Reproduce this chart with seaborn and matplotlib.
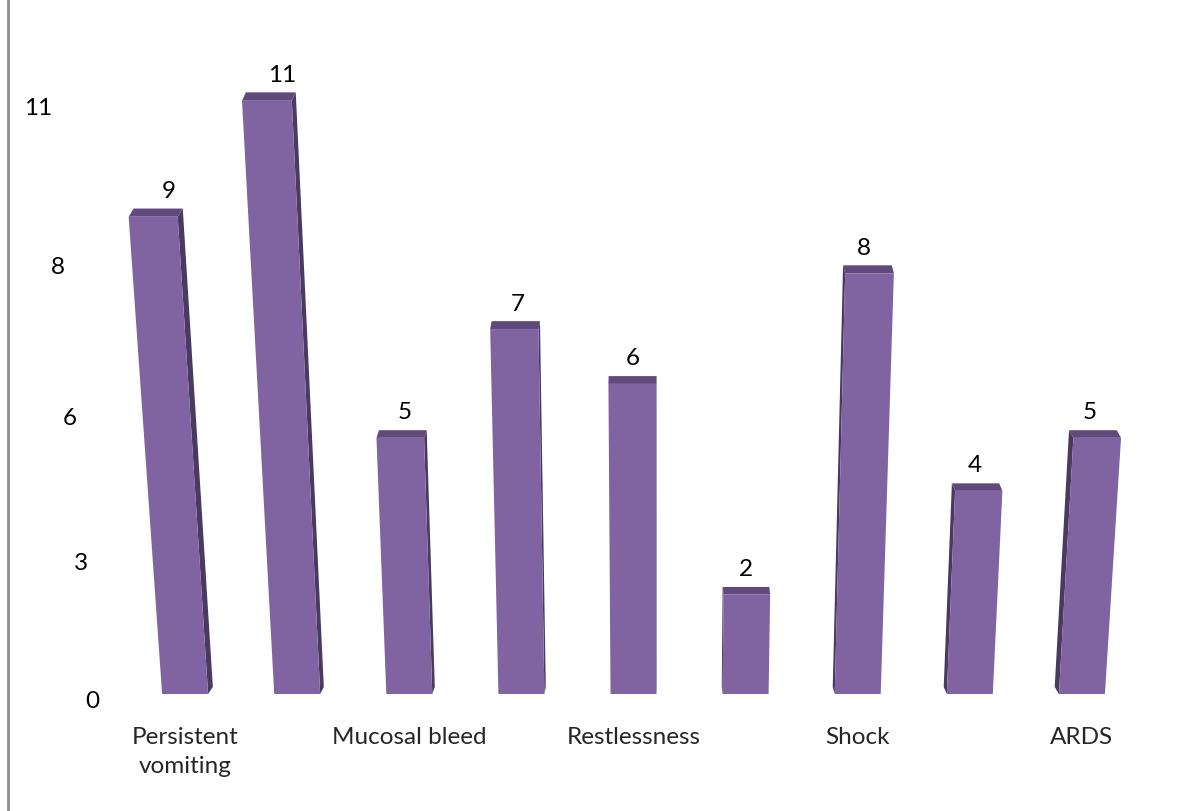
import numpy as np
import pandas as pd
import matplotlib
matplotlib.use("Agg")
import matplotlib.pyplot as plt
import matplotlib.transforms as mtransforms
from matplotlib.patches import Polygon
from matplotlib.lines import Line2D
import seaborn as sns

# ---------------- data ----------------
# (labels of bars 2, 4, 6, 8 are hidden in the reference, Excel skipped them)
categories = ["Persistent\nvomiting", "Abdominal pain", "Mucosal bleed", "Lethargy",
              "Restlessness", "Hepatomegaly", "Shock", "Fluid accumulation", "ARDS"]
values = [9, 11, 5, 7, 6, 2, 8, 4, 5]
shown_ticks = [0, 2, 4, 6, 8]
ytick_values = [0, 2.75, 5.5, 8.25, 11]
ytick_labels = ["0", "3", "6", "8", "11"]

# ---------------- style ----------------
FACE = "#8064A2"
TOP = "#604A7B"
SIDE = "#4A3961"
DPI = 100
XC_FRAC = 0.525      # horizontal vanishing centre (axes fraction)
DIVERGE = 7085.0     # perspective divergence (px)
STRETCH = 5336.0     # vertical perspective stretch (px)
SIDE_K = 0.011
DEPTH_UP = 7.0
FS = 17.5

sns.set_theme(style="white")
plt.rcParams["font.family"] = ["Lato", "DejaVu Sans"]


class Perspective(mtransforms.Transform):
    input_dims = 2
    output_dims = 2
    is_separable = False
    has_inverse = False

    def __init__(self, ax, xc_frac, diverge, stretch, x_strength=1.0):
        super().__init__()
        self._ax = ax
        self._xc_frac = xc_frac
        self._div = diverge
        self._stretch = stretch
        self._xs = x_strength

    def transform_non_affine(self, values):
        arr = np.asarray(values, dtype=float)
        v = arr.reshape(-1, 2)
        y0 = self._ax.transData.transform((0, 0))[1]
        xc = self._ax.transAxes.transform((self._xc_frac, 0))[0]
        h = v[:, 1] - y0
        hp = h * (1 + h / self._stretch)
        x = v[:, 0] + (v[:, 0] - xc) * hp / self._div * self._xs
        out = np.column_stack([x, y0 + hp])
        if arr.ndim == 1:
            return out.reshape(-1)
        return out


fig = plt.figure(figsize=(11.97, 8.12), dpi=DPI)
ax = fig.add_axes([0.1078, 0.1441, 0.8429, 0.7239])

df = pd.DataFrame({"cat": categories, "val": values})
sns.barplot(data=df, x="cat", y="val", color=FACE, saturation=1, width=0.41,
            ax=ax, edgecolor="none", linewidth=0)
ax.set_xlim(-0.5, len(categories) - 0.5)
ax.set_ylim(0, 12)
sns.despine(ax=ax, left=True, bottom=True, top=True, right=True)
ax.set_xlabel("")
ax.set_ylabel("")
ax.set_yticks([])
ax.set_xticks(shown_ticks)
ax.set_xticklabels([categories[i] for i in shown_ticks], fontsize=FS, linespacing=1.45)
ax.tick_params(axis="x", length=0, pad=23)
ax.grid(False)

persp = Perspective(ax, XC_FRAC, DIVERGE, STRETCH)
label_persp = Perspective(ax, XC_FRAC, DIVERGE, STRETCH, x_strength=0.5)

xc_disp = ax.transAxes.transform((XC_FRAC, 0))[0]
for p in list(ax.patches):
    x0, w, hv = p.get_x(), p.get_width(), p.get_height()
    (dx0, dyb), (dx1, dyt) = ax.transData.transform([(x0, 0), (x0 + w, hv)])
    cx = (dx0 + dx1) / 2
    ddx = (xc_disp - cx) * SIDE_K
    ddy = DEPTH_UP
    top = [(dx0, dyt), (dx1, dyt), (dx1 + ddx, dyt + ddy), (dx0 + ddx, dyt + ddy)]
    sx = dx1 if ddx >= 0 else dx0
    side = [(sx, dyb), (sx, dyt), (sx + ddx, dyt + ddy), (sx + ddx, dyb + ddy)]
    ax.add_patch(Polygon(side, closed=True, facecolor=SIDE, edgecolor="none",
                         transform=persp, clip_on=False, zorder=0.8))
    ax.add_patch(Polygon(top, closed=True, facecolor=TOP, edgecolor="none",
                         transform=persp, clip_on=False, zorder=0.9))
    p.set_transform(ax.transData + persp)
    p.set_clip_on(False)
    p.set_zorder(1.0)

off_val = mtransforms.ScaledTranslation(0, 26 / DPI, fig.dpi_scale_trans)
for i, v in enumerate(values):
    ax.text(i, v, str(v), transform=ax.transData + label_persp + off_val,
            ha="center", va="center", fontsize=FS, color="black", clip_on=False)

off_y = mtransforms.ScaledTranslation(0, -7 / DPI, fig.dpi_scale_trans)
ytr = ax.get_yaxis_transform() + persp + off_y
for v, lab in zip(ytick_values, ytick_labels):
    ax.text(-0.0297, v, lab, transform=ytr, ha="right", va="center",
            fontsize=FS, color="black", clip_on=False)

fig.add_artist(Line2D([0.0067, 0.0067], [0, 1], transform=fig.transFigure,
                      color="#8c8c8c", lw=2))

fig.savefig("out.png", dpi=DPI)
